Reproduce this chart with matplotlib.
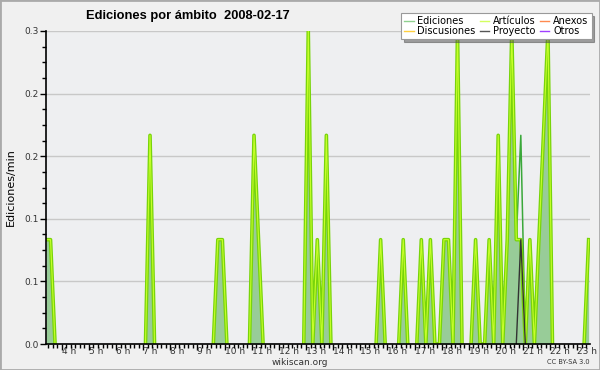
import numpy as np
import matplotlib
matplotlib.use("Agg")
import matplotlib.pyplot as plt
from matplotlib.lines import Line2D
from matplotlib.ticker import FixedLocator, MultipleLocator, FuncFormatter

# 10-minute bins from 03:25 to 23:25
start_hour = 3 + 25 / 60
n_bins = 121

articulos = [
    0.1, 0.1, 0, 0, 0, 0, 0, 0, 0, 0,
    0, 0, 0, 0, 0, 0, 0, 0, 0, 0,
    0, 0, 0, 0.2, 0, 0, 0, 0, 0, 0,
    0, 0, 0, 0, 0, 0, 0, 0, 0.1, 0.1,
    0, 0, 0, 0, 0, 0, 0.2, 0.1, 0, 0,
    0, 0, 0, 0, 0, 0, 0, 0, 0.3, 0,
    0.1, 0, 0.2, 0, 0, 0, 0, 0, 0, 0,
    0, 0, 0, 0, 0.1, 0, 0, 0, 0, 0.1,
    0, 0, 0, 0.1, 0, 0.1, 0, 0, 0.1, 0.1,
    0, 0.3, 0, 0, 0, 0.1, 0, 0, 0.1, 0,
    0.2, 0, 0.1, 0.3, 0.1, 0.1, 0, 0.1, 0, 0.1,
    0.2, 0.3, 0, 0, 0, 0, 0, 0, 0, 0,
    0.1,
]
ediciones = [
    0.1, 0.1, 0, 0, 0, 0, 0, 0, 0, 0,
    0, 0, 0, 0, 0, 0, 0, 0, 0, 0,
    0, 0, 0, 0.2, 0, 0, 0, 0, 0, 0,
    0, 0, 0, 0, 0, 0, 0, 0, 0.1, 0.1,
    0, 0, 0, 0, 0, 0, 0.2, 0.1, 0, 0,
    0, 0, 0, 0, 0, 0, 0, 0, 0.3, 0,
    0.1, 0, 0.2, 0, 0, 0, 0, 0, 0, 0,
    0, 0, 0, 0, 0.1, 0, 0, 0, 0, 0.1,
    0, 0, 0, 0.1, 0, 0.1, 0, 0, 0.1, 0.1,
    0, 0.3, 0, 0, 0, 0.1, 0, 0, 0.1, 0,
    0.2, 0, 0.1, 0.3, 0.1, 0.2, 0, 0.1, 0, 0.1,
    0.2, 0.3, 0, 0, 0, 0, 0, 0, 0, 0,
    0.1,
]
# Proyecto: only one non-zero bin
proyecto_bins = [104, 105, 106]
proyecto_vals = [0, 0.1, 0]

hour_ticks = list(range(4, 24))
hour_labels = [f"{h} h" for h in hour_ticks]
y_ticks = [0, 0.06, 0.12, 0.18, 0.24, 0.3]

legend_names = ["Ediciones", "Discusiones", "Artículos", "Proyecto", "Anexos", "Otros"]
legend_colors = ["#8fd08f", "#ffd040", "#d4ff60", "#555555", "#ff8a50", "#a040ff"]

t = start_hour + np.arange(n_bins) / 6
t_proy = start_hour + np.array(proyecto_bins) / 6


def hide_flat_zero(values):
    # don't draw the line along the baseline, only the spikes
    v = np.array(values, dtype=float)
    prev = np.r_[0, v[:-1]]
    nxt = np.r_[v[1:], 0]
    return np.ma.masked_where((v == 0) & (prev == 0) & (nxt == 0), v)


plt.rcParams["font.family"] = "DejaVu Sans"
fig = plt.figure(figsize=(6, 3.7), dpi=100, facecolor="#f0f0f0")
ax = fig.add_axes([46 / 600, 26 / 370, 544 / 600, 313 / 370])
ax.set_facecolor("#eeeff1")

ax.fill_between(t, articulos, 0, color="#98cc98", lw=0, zorder=2)
ax.plot(t, hide_flat_zero(ediciones), color="#3aa83a", lw=1.1, zorder=3)
ax.plot(t, hide_flat_zero(articulos), color="#78d40a", lw=2.6, zorder=4)
ax.plot(t, hide_flat_zero(articulos), color="#c6ff2a", lw=0.8, zorder=5)
ax.plot(t_proy, proyecto_vals, color="#333333", lw=1.0, zorder=6)

ax.set_xlim(start_hour, start_hour + (n_bins - 1) / 6 + 0.05)
ax.set_ylim(0, 0.3)

for side in ["top", "right"]:
    ax.spines[side].set_visible(False)
for side in ["left", "bottom"]:
    ax.spines[side].set_color("black")
    ax.spines[side].set_linewidth(1.2)
    ax.spines[side].set_zorder(7)

ax.yaxis.set_major_locator(FixedLocator(y_ticks))
ax.yaxis.set_minor_locator(MultipleLocator(0.015))
ax.yaxis.set_major_formatter(FuncFormatter(lambda v, p: f"{v:.1f}"))
ax.grid(axis="y", which="major", color="#c8c8c8", lw=1, zorder=1)

ax.set_xticks(hour_ticks)
ax.set_xticklabels(hour_labels, ha="left")
ax.xaxis.set_minor_locator(MultipleLocator(1 / 6))

ax.tick_params(axis="both", which="major", direction="out", length=4, width=1,
               labelsize=6.5, labelcolor="#333333", pad=1.5)
ax.tick_params(axis="both", which="minor", direction="out", length=3, width=1)
ax.tick_params(axis="x", which="major", pad=-1.5)

ax.set_ylabel("Ediciones/min", fontsize=8, labelpad=6)

fig.text(0.313, 0.958, "Ediciones por ámbito  2008-02-17", ha="center", va="center",
         fontsize=9.3, fontweight="bold", family="Liberation Sans")
fig.text(0.5, 0.021, "wikiscan.org", ha="center", va="center", fontsize=6.5, color="#333333")
fig.text(0.983, 0.021, "CC BY-SA 3.0", ha="right", va="center", fontsize=4.8, color="#333333")

handles = [Line2D([], [], color=c, lw=1) for c in legend_colors]
leg = fig.legend(handles, legend_names, loc="upper right", bbox_to_anchor=(0.994, 0.978),
                 ncol=3, fontsize=7, frameon=True, fancybox=False, shadow=True,
                 handlelength=1.0, handletextpad=0.4, columnspacing=0.4,
                 labelspacing=0.05, borderpad=0.3)
leg.get_frame().set_edgecolor("#999999")
leg.get_frame().set_linewidth(0.8)

# outer border of the picture
fig.patches.append(plt.Rectangle((0, 0), 1, 1, transform=fig.transFigure, fill=False,
                                 edgecolor="#aaaaaa", lw=2))

fig.savefig("out.png", dpi=100, facecolor=fig.get_facecolor())
